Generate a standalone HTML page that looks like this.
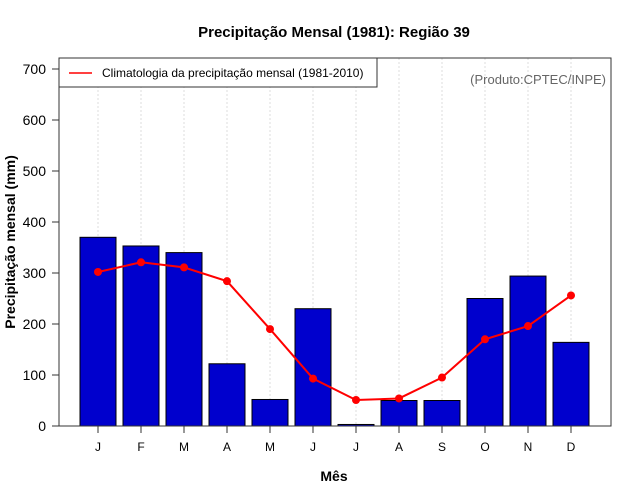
<!DOCTYPE html>
<html><head><meta charset="utf-8"><style>
body{margin:0;background:#fff}
svg{display:block;font-family:"Liberation Sans",Arial,sans-serif}
</style></head><body>
<svg id="chart" width="640" height="500">
<text x="334" y="37" text-anchor="middle" font-size="15" font-weight="bold">Precipitação Mensal (1981): Região 39</text>
<g id="grid"></g>
<g id="bars"></g>
<g id="line"></g>
<g id="axes"></g>
<rect x="59" y="58" width="552" height="368" fill="none" stroke="#333" stroke-width="1"/>
<g>
<rect x="59" y="58" width="318" height="29" fill="#fff" stroke="#333"/>
<line x1="69" y1="73" x2="92" y2="73" stroke="red" stroke-width="1.5"/>
<text x="102" y="77" font-size="12">Climatologia da precipitação mensal (1981-2010)</text>
</g>
<text x="606" y="84" text-anchor="end" font-size="13" fill="#666">(Produto:CPTEC/INPE)</text>
<text x="334" y="481" text-anchor="middle" font-size="14" font-weight="bold">Mês</text>
<text transform="translate(15,242) rotate(-90)" text-anchor="middle" font-size="14" font-weight="bold">Precipitação mensal (mm)</text>
</svg>
<script>
const months=["J","F","M","A","M","J","J","A","S","O","N","D"];
const observed=[370,353,340,122,52,230,3,50,50,250,294,164];
const climatology=[302,321,311,284,190,93,51,54,95,170,196,256];
const yTicks=[0,100,200,300,400,500,600,700];
const NS="http://www.w3.org/2000/svg";
function xPos(i){return 98+i*43;}
function yPos(v){return 426-v*0.51;}
function mk(tag,attrs,parent){const e=document.createElementNS(NS,tag);for(const k in attrs)e.setAttribute(k,attrs[k]);document.getElementById(parent).appendChild(e);return e;}
months.forEach((m,i)=>{
 const g=mk("line",{x1:xPos(i),x2:xPos(i),y1:58,y2:426,stroke:"#ddd","stroke-dasharray":"2,2"},"grid");
 
 
 const b=mk("rect",{x:xPos(i)-18,y:yPos(observed[i]),width:36,height:426-yPos(observed[i]),fill:"#0000cd",stroke:"#000","stroke-width":1},"bars");
 
 
 const t=mk("line",{x1:xPos(i),x2:xPos(i),y1:426,y2:433,stroke:"#333"},"axes");
 
 
 const l=mk("text",{x:xPos(i),y:451,"text-anchor":"middle","font-size":12},"axes");
 l.textContent=m;
 
 
});
const pts=climatology.map((v,i)=>xPos(i)+","+yPos(v)).join(" ");
const pl=mk("polyline",{points:pts,fill:"none",stroke:"red","stroke-width":2},"line");


climatology.forEach((v,i)=>{
 const c=mk("circle",{cx:xPos(i),cy:yPos(v),r:4,fill:"red"},"line");
 
 
});
mk("line",{x1:59,x2:611,y1:426,y2:426,stroke:"#333"},"axes");
yTicks.forEach(v=>{
 const t=mk("line",{x1:52,x2:59,y1:yPos(v),y2:yPos(v),stroke:"#333"},"axes");
 
 
 const l=mk("text",{x:46,y:yPos(v)+5,"text-anchor":"end","font-size":14},"axes");
 l.textContent=v;
 
 
});
</script>
</body></html>
